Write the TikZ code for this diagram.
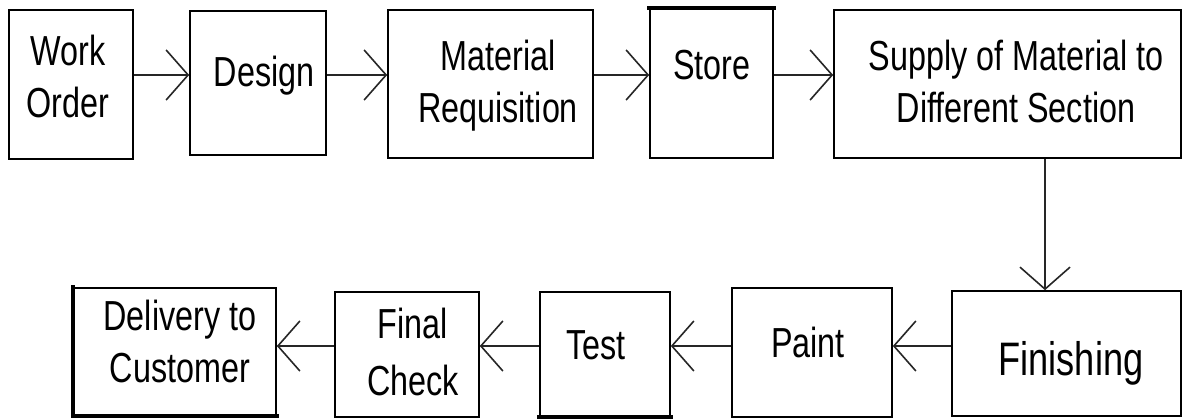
\documentclass[tikz,border=0pt]{standalone}
\usepackage{fontspec}
\setmainfont[FakeStretch=0.77]{Liberation Sans}
\usetikzlibrary{arrows.meta}

\tikzset{
  box/.style={draw=black, line width=1.6pt, inner sep=0pt, fill=white},
  lbl/.style={inner sep=0pt, anchor=base, align=center, text=black,
    font=\fontsize{42}{52}\selectfont},
  flow/.style={draw=black!85, line width=2pt,
    -{Straight Barb[length=22pt, width=50pt, line width=1.6pt]}},
  heavy/.style={line width=4pt, line cap=rect}
}

\begin{document}
\begin{tikzpicture}[x=1pt, y=-1pt]
  \useasboundingbox (0,0) rectangle (1182,419);

  % rows that the horizontal connectors run along
  \coordinate (toprow) at (0,75);
  \coordinate (botrow) at (0,346);
  \coordinate (dropx) at (1045,0);

  % upper row of boxes
  \node[box, minimum width=124pt, minimum height=149pt] (work)   at (71,84.5)   {};
  \node[box, minimum width=136pt, minimum height=144pt] (design) at (258,83)    {};
  \node[box, minimum width=205pt, minimum height=148pt] (matreq) at (490.5,84)  {};
  \node[box, minimum width=123pt, minimum height=149pt] (store)  at (711.5,83.5){};
  \node[box, minimum width=347pt, minimum height=148pt] (supply) at (1007.5,84) {};

  % lower row of boxes
  \node[box, minimum width=229pt, minimum height=125pt] (finish) at (1066.5,353.5) {};
  \node[box, minimum width=160pt, minimum height=129pt] (paint)  at (812,352.5)    {};
  \node[box, minimum width=130pt, minimum height=124pt] (test)   at (605,354)      {};
  \node[box, minimum width=144pt, minimum height=125pt] (final)  at (407,354.5)    {};
  \node[box, minimum width=202pt, minimum height=127pt] (deliv)  at (175,351.5)    {};

  % heavier edges on a few boxes
  \draw[heavy] (store.north west) -- (store.north east);
  \draw[heavy] (test.south west) -- (test.south east);
  \draw[heavy] (deliv.north west) -- (deliv.south west) -- (deliv.south east);

  % box texts (base anchor sits on the last line's baseline)
  \node[lbl] (tWork)   at (68,118)   {Work\\Order};
  \node[lbl] (tDesign) at (264,87)   {Design};
  \node[lbl] (tMat)    at (498,123)  {Material\\Requisition};
  \node[lbl] (tStore)  at (712,80)   {Store};
  \node[lbl] (tSupply) at (1016,123) {Supply of Material to\\Different Section};
  \node[lbl, font=\fontsize{47}{56}\selectfont] (tFinish) at (1071,375) {Finishing};
  \node[lbl] (tPaint)  at (808,357)  {Paint};
  \node[lbl] (tTest)   at (596,359)  {Test};
  \node[lbl, font=\fontsize{42}{57}\selectfont] (tFinal) at (413,395) {Final\\Check};
  \node[lbl] (tDeliv)  at (180,382)  {Delivery to\\Customer};

  % connectors
  \draw[flow] (work.east |- toprow)   -- (design.west |- toprow);
  \draw[flow] (design.east |- toprow) -- (matreq.west |- toprow);
  \draw[flow] (matreq.east |- toprow) -- (store.west |- toprow);
  \draw[flow] (store.east |- toprow)  -- (supply.west |- toprow);
  \draw[flow] (supply.south -| dropx) -- (finish.north -| dropx);
  \draw[flow] (finish.west |- botrow) -- (paint.east |- botrow);
  \draw[flow] (paint.west |- botrow)  -- (test.east |- botrow);
  \draw[flow] (test.west |- botrow)   -- (final.east |- botrow);
  \draw[flow] (final.west |- botrow)  -- (deliv.east |- botrow);
\end{tikzpicture}
\end{document}
